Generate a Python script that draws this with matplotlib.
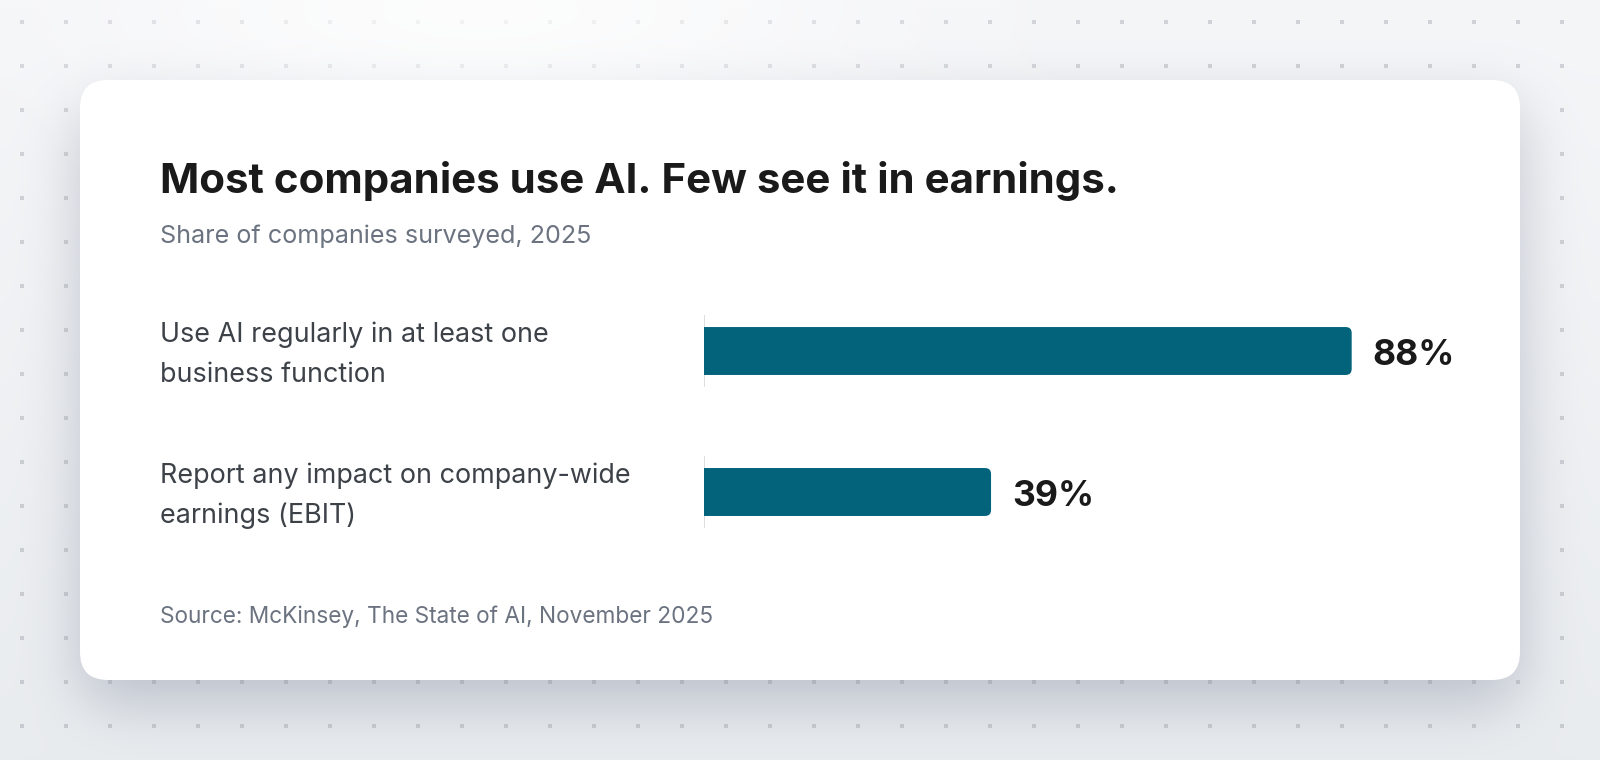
import numpy as np
import matplotlib
matplotlib.use("Agg")
import matplotlib.pyplot as plt
from matplotlib.patches import FancyBboxPatch

# data
categories = ["Use AI regularly in at least one\nbusiness function",
              "Report any impact on company-wide\nearnings (EBIT)"]
values = [88, 39]
title = "Most companies use AI. Few see it in earnings."
subtitle = "Share of companies surveyed, 2025"
source = "Source: McKinsey, The State of AI, November 2025"

BAR_COLOR = "#02637a"
W, H = 1600, 760

plt.rcParams["font.family"] = ["Inter", "DejaVu Sans"]


def box_blur(a, r, axis):
    pad = [(0, 0), (0, 0)]
    pad[axis] = (r + 1, r)
    p = np.pad(a, pad, mode="edge")
    c = np.cumsum(p, axis=axis)
    if axis == 0:
        out = c[2 * r + 1:, :] - c[:-2 * r - 1, :]
    else:
        out = c[:, 2 * r + 1:] - c[:, :-2 * r - 1]
    return out / (2 * r + 1)


def rounded_mask(x0, y0, x1, y1, rad):
    yy, xx = np.mgrid[0:H, 0:W] + 0.5
    cx = np.clip(xx, x0 + rad, x1 - rad)
    cy = np.clip(yy, y0 + rad, y1 - rad)
    return ((xx - cx) ** 2 + (yy - cy) ** 2 <= rad ** 2).astype(float)


# background with soft card shadow
t = np.linspace(0, 1, H)[:, None]
top = np.array([245, 246, 248]) / 255
bot = np.array([233, 236, 239]) / 255
bg = top + (bot - top) * t[..., None]
bg = np.broadcast_to(bg, (H, W, 3)).copy()

sh = rounded_mask(80, 104, 1520, 704, 28)
for _ in range(3):
    sh = box_blur(sh, 28, 0)
    sh = box_blur(sh, 28, 1)
sh_col = np.array([90, 100, 125]) / 255
a = 0.32 * sh[..., None]
bg = bg * (1 - a) + sh_col * a

# soft white glow at the top, above the dot grid
yy, xx = np.mgrid[0:H, 0:W]
g = np.exp(-(((xx - 480) / 380.0) ** 2 + ((yy - 10) / 110.0) ** 2))
glow = np.zeros((H, W, 4))
glow[..., :3] = 1.0
glow[..., 3] = 0.75 * g

fig = plt.figure(figsize=(W / 100, H / 100), dpi=100)
ax_bg = fig.add_axes([0, 0, 1, 1])
ax_bg.set_xlim(0, W)
ax_bg.set_ylim(H, 0)
ax_bg.axis("off")
ax_bg.imshow(bg, extent=(0, W, H, 0), interpolation="bilinear", zorder=0)

gx, gy = np.meshgrid(np.arange(22, W, 44), np.arange(22, H, 44))
ax_bg.scatter(gx.ravel(), gy.ravel(), s=8, marker="s", color="#8a9099",
              alpha=0.35, linewidths=0, zorder=1)
ax_bg.imshow(glow, extent=(0, W, H, 0), interpolation="bilinear", zorder=1.5)

card = FancyBboxPatch((80, 80), 1440, 600,
                      boxstyle="round,pad=0,rounding_size=28",
                      facecolor="white", edgecolor="none", zorder=2)
ax_bg.add_patch(card)

ax_bg.text(160, 193, title, fontsize=30.3, fontweight="bold",
           color="#1a1a1a", va="baseline", zorder=3)
ax_bg.text(160, 243, subtitle, fontsize=18.1, color="#6b7280",
           va="baseline", zorder=3)
ax_bg.text(160, 623, source, fontsize=16.3, color="#6b7280",
           va="baseline", zorder=3)

# bar panel: x 0..100 maps to 704..1440 px
ax = fig.add_axes([704 / W, (H - 562.5) / H, 736 / W, 282 / H])
ax.set_xlim(0, 100)
ax.set_ylim(1.5, -0.5)
ax.axis("off")
ax.patch.set_alpha(0)

bar_h = 0.34
px_x = 736 / 100
px_y = 282 / 2
rad = 6 / px_x
for i, (cat, v) in enumerate(zip(categories, values)):
    ax.vlines(0, i - 0.255, i + 0.255, color="#d6d9dd", lw=1.2, zorder=1)
    bar = FancyBboxPatch((-rad * 2, i - bar_h / 2), v + rad * 2, bar_h,
                         boxstyle=f"round,pad=0,rounding_size={rad}",
                         mutation_aspect=px_x / px_y,
                         facecolor=BAR_COLOR, edgecolor="none", zorder=2)
    ax.add_patch(bar)
    ax.annotate(f"{v}%", xy=(v, i), xytext=(21, -14),
                textcoords="offset pixels", va="baseline", ha="left",
                fontsize=25.6, fontweight="bold", color="#1a1a1a")
    for k, line in enumerate(cat.split("\n")):
        ax.annotate(line, xy=(160, i), xycoords=("figure pixels", "data"),
                    xytext=(0, 9 - 40 * k), textcoords="offset pixels",
                    va="baseline", ha="left", fontsize=19.4,
                    color="#3d4249", annotation_clip=False)

fig.savefig("out.png", dpi=100)
